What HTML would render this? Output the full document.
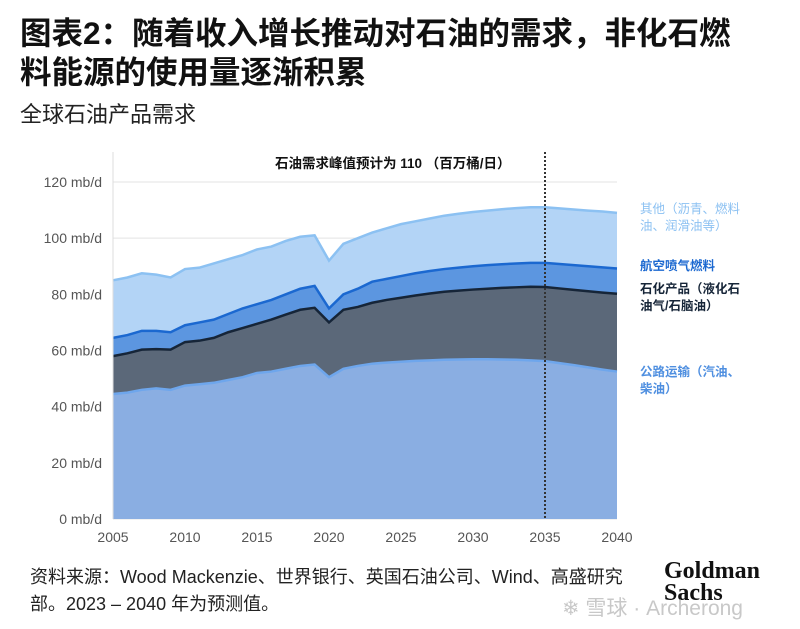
<!DOCTYPE html>
<html><head><meta charset="utf-8"><style>
body{margin:0;width:800px;height:629px;background:#fff;font-family:"Liberation Sans","Noto Sans CJK SC",sans-serif;overflow:hidden;position:relative}
.t{position:absolute;white-space:nowrap}
</style></head><body>
<div class="t" style="left:20px;top:14px;font-size:31.5px;font-weight:bold;line-height:39px;color:#111">图表2：随着收入增长推动对石油的需求，非化石燃<br>料能源的使用量逐渐积累</div>
<div class="t" style="left:20px;top:97px;font-size:22px;color:#222">全球石油产品需求</div>
<svg id="c" width="800" height="629" style="position:absolute;left:0;top:0"></svg>
<div class="t" style="left:30px;top:564px;font-size:18px;line-height:27px;color:#222">资料来源：Wood Mackenzie、世界银行、英国石油公司、Wind、高盛研究<br>部。2023 – 2040 年为预测值。</div>
<div class="t" style="left:664px;top:560px;font-family:'Liberation Serif',serif;font-weight:bold;font-size:24px;line-height:22px;color:#111">Goldman<br>Sachs</div>
<div class="t" style="left:562px;top:592px;font-size:21px;color:#c8c8c8">❄ 雪球 · Archerong</div>
<script>
const years=[2005,2006,2007,2008,2009,2010,2011,2012,2013,2014,2015,2016,2017,2018,2019,2020,2021,2022,2023,2024,2025,2026,2027,2028,2029,2030,2031,2032,2033,2034,2035,2036,2037,2038,2039,2040];
const roadTop=[44.5,45,46,46.5,46,47.5,48,48.5,49.5,50.5,52,52.5,53.5,54.5,55,50.5,53.5,54.5,55.3,55.7,56,56.3,56.5,56.7,56.8,56.9,56.9,56.8,56.7,56.5,56.2,55.5,54.8,54,53.2,52.5];
const petchemTop=[58,59,60.3,60.5,60.3,63,63.5,64.5,66.5,68,69.5,71,72.8,74.5,75.2,70,74.5,75.5,77,78,78.8,79.6,80.3,80.9,81.3,81.7,82,82.3,82.5,82.7,82.6,82.1,81.6,81.1,80.6,80.2];
const jetTop=[64.5,65.5,67,67,66.5,69,70,71,73,75,76.5,78,80,82,83,75,80,82,84.5,85.5,86.5,87.5,88.3,89,89.5,90,90.4,90.7,91,91.2,91.2,90.8,90.4,90,89.6,89.2];
const totalTop=[85,86,87.5,87,86,89,89.5,91,92.5,94,96,97,99,100.5,101,92,98,100,102,103.5,105,106,107,108,108.7,109.3,109.8,110.3,110.7,111,111,110.6,110.2,109.8,109.5,109];
const yTicks=[0,20,40,60,80,100,120];
const xTicks=[2005,2010,2015,2020,2025,2030,2035,2040];
const svg=document.getElementById('c');const NS='http://www.w3.org/2000/svg';
const X=y=>113+(y-2005)*(504/35);const Y=v=>519-v*(337/120);
function mk(t,a){const e=document.createElementNS(NS,t);for(const k in a)e.setAttribute(k,a[k]);svg.appendChild(e);return e;}
yTicks.forEach(v=>{const g=mk('line',{x1:113,x2:617,y1:Y(v),y2:Y(v),stroke:'#e3e3e3','stroke-width':1});

const t=mk('text',{x:102,y:Y(v)+5,'text-anchor':'end','font-size':14,fill:'#555'});t.textContent=v+' mb/d';
});
const layers=[[totalTop,jetTop,'#b3d4f6','#8cc1f2','other-area'],[jetTop,petchemTop,'#5c96e0','#1b68d0','jet-fuel-area'],[petchemTop,roadTop,'#5b6879','#162538','petrochemical-area'],[roadTop,null,'#8aaee2','#6ea6ec','road-transport-area']];
layers.forEach(([top,bot,fill,line,name])=>{
let d='M'+years.map((y,i)=>X(y)+','+Y(top[i])).join('L');
if(bot)d+='L'+years.map((y,i)=>X(y)+','+Y(bot[i])).reverse().join('L');else d+='L'+X(2040)+','+Y(0)+'L'+X(2005)+','+Y(0);
const p=mk('path',{d:d+'Z',fill:fill});
const l=mk('path',{d:'M'+years.map((y,i)=>X(y)+','+Y(top[i])).join('L'),fill:'none',stroke:line,'stroke-width':2.5});
});
mk('line',{x1:113,x2:113,y1:Y(0),y2:152,stroke:'#ddd'});
xTicks.forEach(y=>{const t=mk('text',{x:X(y),y:542,'text-anchor':'middle','font-size':14,fill:'#555'});t.textContent=y;
});
const dl=mk('line',{x1:X(2035),x2:X(2035),y1:152,y2:Y(0),stroke:'#333','stroke-width':2,'stroke-dasharray':'2,2'});

const an=mk('text',{x:275,y:168,'font-size':13.5,'font-weight':'bold',fill:'#111'});an.textContent='石油需求峰值预计为 110 （百万桶/日）';

const labs=[[['其他（沥青、燃料','油、润滑油等）'],213,'#8cc1f2','legend-other'],[['航空喷气燃料'],270,'#1b68d0','legend-jet'],[['石化产品（液化石','油气/石脑油）'],293,'#162538','legend-petrochem'],[['公路运输（汽油、','柴油）'],376,'#4f8fe0','legend-road']];
labs.forEach(([ls,y,c,n])=>{ls.forEach((s,i)=>{const t=mk('text',{x:640,y:y+i*17,'font-size':12.5,'font-weight':n=='legend-other'?'normal':'bold',fill:c});t.textContent=s;
});});
</script>
</body></html>
